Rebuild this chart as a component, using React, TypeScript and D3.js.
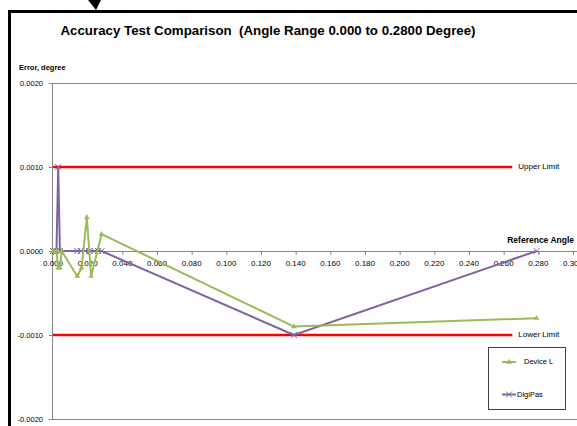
import React from 'react';
import * as d3 from 'd3';

// tick values
const xTicks = [0, 0.02, 0.04, 0.06, 0.08, 0.1, 0.12, 0.14, 0.16, 0.18, 0.2, 0.22, 0.24, 0.26, 0.28, 0.3];
const yTicks = [0.002, 0.001, 0, -0.001, -0.002];

// Device L series
const deviceAngles = [0.0, 0.002, 0.003, 0.004, 0.005, 0.014, 0.0165, 0.0195, 0.022, 0.028, 0.139, 0.279];
const deviceErrors = [0.0, 0.0, -0.0002, -0.0002, 0.0, -0.0003, -0.0002, 0.0004, -0.0003, 0.0002, -0.0009, -0.0008];

// DigiPas series
const digiAngles = [0.0, 0.001, 0.002, 0.003, 0.004, 0.014, 0.016, 0.0185, 0.021, 0.024, 0.026, 0.028, 0.139, 0.279];
const digiErrors = [0.0, 0.0, 0.0, 0.001, 0.0, 0.0, 0.0, 0.0, 0.0, 0.0, 0.0, 0.0, -0.001, 0.0];

// limit lines
const limitNames = ['Upper Limit', 'Lower Limit'];
const limitValues = [0.001, -0.001];
const limitEnd = 0.265;

const W = 577;
const H = 426;
const GREEN = '#9bbb59';
const PURPLE = '#8064a2';
const AXIS = '#868686';
const FONT = '"Liberation Sans", Arial, sans-serif';

const loc = d3.formatLocale({ decimal: '.', thousands: ',', grouping: [3], currency: ['$', ''], minus: '-' });
const fx = loc.format('.3f');
const fy = loc.format('.4f');

function App() {
  const x = d3.scaleLinear().domain([0, 0.3]).range([53, 573]);
  const y = d3.scaleLinear().domain([-0.002, 0.002]).range([419, 83]);

  const device = deviceAngles.map((a, i) => [a, deviceErrors[i]] as [number, number]);
  const digi = digiAngles.map((a, i) => [a, digiErrors[i]] as [number, number]);

  const line = d3.line<[number, number]>().x(d => x(d[0])).y(d => y(d[1]));
  const tri = d3.symbol().type(d3.symbolTriangle).size(14)();

  const x0 = x(0);
  const y0 = y(0);

  return (
    <div style={{ position: 'fixed', left: 0, top: 0 }}>
      <svg width={W} height={H} style={{ display: 'block', background: '#fff' }}>
        {/* frame */}
        <path d="M88,0 L101,0 L96,10 Z" fill="#000" />
        <line x1={9.5} y1={11.5} x2={W} y2={11.5} stroke="#000" strokeWidth={3} />
        <line x1={9.5} y1={10} x2={9.5} y2={H} stroke="#000" strokeWidth={3} />

        <text x={268} y={35} textAnchor="middle" fontFamily={FONT} fontWeight="bold" fontSize={13.3} fill="#000" style={{ whiteSpace: 'pre' }}>
          {'Accuracy Test Comparison  (Angle Range 0.000 to 0.2800 Degree)'}
        </text>
        <text x={19} y={70} fontFamily={FONT} fontWeight="bold" fontSize={7.5} fill="#000">Error, degree</text>

        {/* plot area edges */}
        <line x1={x0} y1={y(0.002) + 0.5} x2={W} y2={y(0.002) + 0.5} stroke={AXIS} strokeWidth={1} />
        <line x1={x0} y1={y(-0.002) + 0.5} x2={W} y2={y(-0.002) + 0.5} stroke={AXIS} strokeWidth={1} />
        <line x1={x0 - 0.5} y1={y(0.002)} x2={x0 - 0.5} y2={y(-0.002)} stroke={AXIS} strokeWidth={1} />

        {/* y ticks */}
        {yTicks.map(t => (
          <g key={'y' + t}>
            <line x1={x0 - 4} x2={x0} y1={y(t) + 0.5} y2={y(t) + 0.5} stroke={AXIS} />
            <text x={x0 - 10} y={y(t) + 3} textAnchor="end" fontFamily={FONT} fontSize={7.5} fill="#000">{fy(t)}</text>
          </g>
        ))}

        {/* x axis at zero */}
        <line x1={x0} x2={W} y1={y0 + 0.5} y2={y0 + 0.5} stroke={AXIS} />
        {xTicks.map(t => (
          <g key={'x' + t}>
            <line x1={x(t) + 0.5} x2={x(t) + 0.5} y1={y0} y2={y0 + 4} stroke={AXIS} />
            <text x={x(t)} y={y0 + 15} textAnchor="middle" fontFamily={FONT} fontSize={8} fill="#000">{fx(t)}</text>
          </g>
        ))}
        <text x={574} y={243} textAnchor="end" fontFamily={FONT} fontWeight="bold" fontSize={8.5} fill="#000">Reference Angle</text>

        {/* limits */}
        {limitValues.map((v, i) => (
          <g key={limitNames[i]}>
            <line x1={x0} x2={x(limitEnd)} y1={y(v)} y2={y(v)} stroke="#ff0000" strokeWidth={2.5} />
            <text x={x(limitEnd) + 6} y={y(v) + 2} fontFamily={FONT} fontSize={8} fill="#000">{limitNames[i]}</text>
          </g>
        ))}

        {/* DigiPas */}
        <path d={line(digi) || ''} fill="none" stroke={PURPLE} strokeWidth={2} strokeLinejoin="round" />
        {digi.map((d, i) => (
          <path key={'dp' + i} transform={`translate(${x(d[0])},${y(d[1])})`} d="M-3,-3 L3,3 M-3,3 L3,-3" stroke={PURPLE} strokeWidth={1} fill="none" />
        ))}

        {/* Device L */}
        <path d={line(device) || ''} fill="none" stroke={GREEN} strokeWidth={2} strokeLinejoin="round" />
        {device.map((d, i) => (
          <path key={'dl' + i} transform={`translate(${x(d[0])},${y(d[1])})`} d={tri || ''} fill={GREEN} />
        ))}

        {/* legend */}
        <rect x={488.5} y={347.5} width={77} height={62} fill="#fff" stroke="#404040" strokeWidth={1} />
        <line x1={502} x2={516} y1={362} y2={362} stroke={GREEN} strokeWidth={2} />
        <path transform="translate(509,362)" d={tri || ''} fill={GREEN} />
        <text x={524} y={364} fontFamily={FONT} fontSize={7.5} fill="#000">Device L</text>
        <line x1={502} x2={516} y1={394.5} y2={394.5} stroke={PURPLE} strokeWidth={2} />
        <path transform="translate(509,394.5)" d="M-3,-3 L3,3 M-3,3 L3,-3" stroke={PURPLE} strokeWidth={1} fill="none" />
        <text x={517} y={397} fontFamily={FONT} fontSize={7.5} fill="#000">DigiPas</text>
      </svg>
    </div>
  );
}

export default App;
